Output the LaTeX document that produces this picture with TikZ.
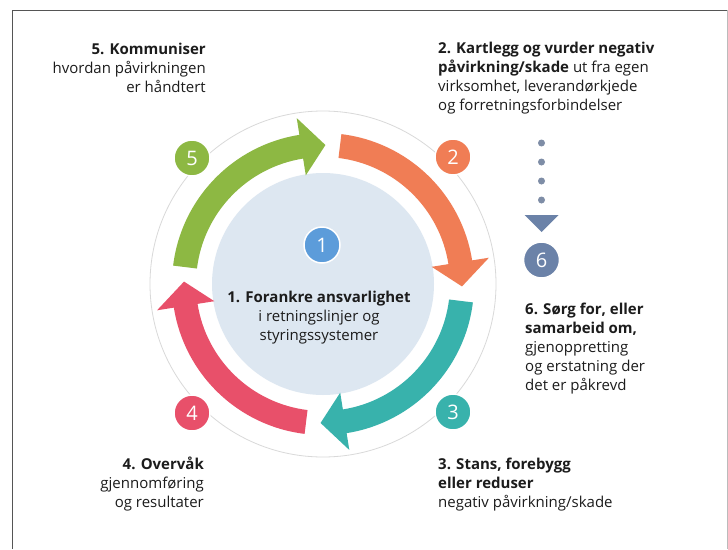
\documentclass[tikz,border=0pt]{standalone}
\usepackage{fontspec}
\setmainfont{Open Sans}
\definecolor{greenc}{HTML}{8DB843}
\definecolor{orangec}{HTML}{F07D55}
\definecolor{tealc}{HTML}{38B2AC}
\definecolor{redc}{HTML}{E8506A}
\definecolor{bluec}{HTML}{5C9CDA}
\definecolor{sixc}{HTML}{6B82A8}
\definecolor{dotc}{HTML}{7E8DA6}
\definecolor{discc}{HTML}{DDE7F1}
\definecolor{thinc}{HTML}{D9D9D9}
\definecolor{framec}{HTML}{555555}
\definecolor{textc}{HTML}{1C1C1C}
\begin{document}
\begin{tikzpicture}[x=1pt,y=1pt,
  txt/.style={inner sep=0pt, font=\fontsize{15}{19.2}\selectfont, text=textc},
  numc/.style={circle, minimum size=36pt, inner sep=0pt, text=white,
    font=\fontsize{20}{20}\selectfont, draw=white, line width=1.5pt},
  ring/.style={line width=0.8pt, draw=thinc}
]
\useasboundingbox (0,0) rectangle (728,-549);
\fill[white] (0,0) rectangle (728,-549);
\draw[framec, line width=1pt] (12,-549) -- (12,-10) -- (727,-10);
\draw[framec!40, line width=0.8pt] (727,-10) -- (727,-549);
\coordinate (C) at (323,-284);
\begin{scope}[shift={(C)}]
  \draw[ring] (0,0) circle (173);
  \fill[discc] (0,0) circle (111);
  \foreach \k/\c in {0/greenc,1/orangec,2/tealc,3/redc} {
    \fill[\c, rotate=-90*\k] (173:151) arc[start angle=173,end angle=99,radius=151]
      -- (99:168) -- (89:139) -- (99:110) -- (99:127)
      arc[start angle=99,end angle=173,radius=127] -- cycle;
  }
\end{scope}
\node[numc, fill=bluec] (n1) at (322,-245) {1};
\node[numc, fill=orangec] (n2) at (453,-157) {2};
\node[numc, fill=tealc] (n3) at (453,-412) {3};
\node[numc, fill=redc] (n4) at (192,-413) {4};
\node[numc, fill=greenc] (n5) at (192,-158) {5};
\node[numc, fill=sixc] (n6) at (541.5,-260) {6};
\foreach \yy in {143,162,181,200} \fill[dotc] (541.5,-\yy) circle (3.5);
\fill[sixc] (524.5,-215) -- (558.5,-215) -- (541.5,-232) -- cycle;
\node[txt, anchor=base east, align=right] (t5) at (206,-92.4)
  {\textbf{5. Kommuniser}\\hvordan påvirkningen\\er håndtert};
\node[txt, anchor=base west, align=left] (t2) at (438,-110.6)
  {\textbf{2. Kartlegg og vurder negativ}\\\textbf{påvirkning/skade} ut fra egen\\virksomhet, leverandørkjede\\og forretningsforbindelser};
\node[txt, anchor=base west, align=left] (t6) at (525,-390.8)
  {\textbf{6. Sørg for, eller}\\\textbf{samarbeid om,}\\gjenoppretting\\og erstatning der\\det er påkrevd};
\node[txt, anchor=base, align=center] (t1) at (319,-340.4)
  {\textbf{1. Forankre ansvarlighet}\\i retningslinjer og\\styringssystemer};
\node[txt, anchor=base east, align=right] (t4) at (204,-507.4)
  {\textbf{4. Overvåk}\\gjennomføring\\og resultater};
\node[txt, anchor=base west, align=left] (t3) at (438,-507.4)
  {\textbf{3. Stans, forebygg}\\\textbf{eller reduser}\\negativ påvirkning/skade};
\end{tikzpicture}
\end{document}
